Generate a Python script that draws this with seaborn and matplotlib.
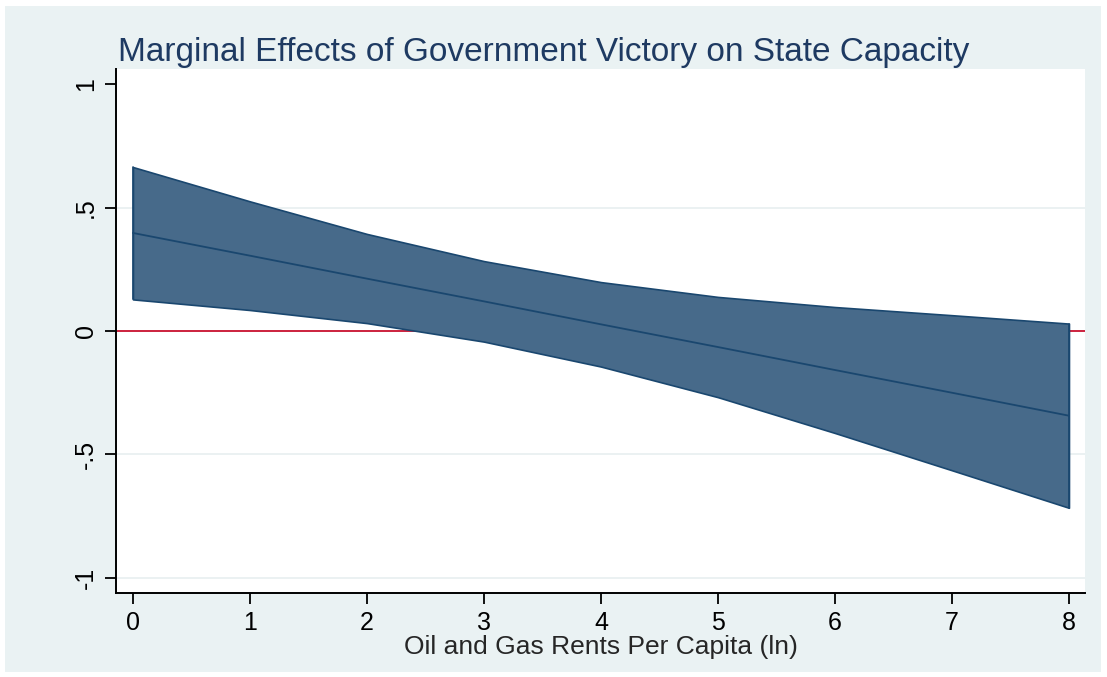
import numpy as np
import pandas as pd
from matplotlib import use
use('agg')
import matplotlib.pyplot as plt
from matplotlib.patches import Rectangle
import seaborn as sns

# values
rents = [0, 1, 2, 3, 4, 5, 6, 7, 8]
effect = [0.397, 0.305, 0.212, 0.120, 0.027, -0.065, -0.158, -0.250, -0.343]
upper = [0.664, 0.525, 0.393, 0.283, 0.198, 0.138, 0.097, 0.064, 0.030]
lower = [0.128, 0.085, 0.032, -0.043, -0.144, -0.268, -0.413, -0.564, -0.716]
yticks = [-1, -0.5, 0, 0.5, 1]
ytick_labels = ["-1", "-.5", "0", ".5", "1"]

df = pd.DataFrame({"rents": rents, "effect": effect, "upper": upper, "lower": lower})

sns.set_style("ticks")
plt.rcParams['font.family'] = ['Liberation Sans', 'DejaVu Sans']

bg = "#EAF2F3"
navy = "#1A476F"
fill = "#476A8A"

fig = plt.figure(figsize=(11.07, 6.77), dpi=100, facecolor="white")
W, H = 1107, 677
# stata-like outer graph region, drawn underneath the axes
fig.add_artist(Rectangle((5 / W, 1 - 672 / H), (1101 - 5) / W, (672 - 6) / H,
                         transform=fig.transFigure, facecolor=bg, edgecolor="none", zorder=-5))

ax = fig.add_axes([116 / W, 1 - 593 / H, (1085 - 116) / W, (593 - 69) / H])
ax.set_facecolor("white")
ax.set_zorder(1)

for yv in [-1, -0.5, 0.5]:
    ax.axhline(yv, color="#E8EFF0", lw=1.2, zorder=1)

ax.fill_between(df["rents"], df["lower"], df["upper"], facecolor=fill, edgecolor=navy,
                lw=1.2, zorder=2)
ax.plot([rents[0], rents[0]], [lower[0], upper[0]], color=navy, lw=1.2, zorder=3)
ax.plot([rents[-1], rents[-1]], [lower[-1], upper[-1]], color=navy, lw=1.2, zorder=3)
sns.lineplot(data=df, x="rents", y="effect", color=navy, lw=1.3, ax=ax, zorder=3)
ax.axhline(0, color="#C8102E", lw=1.3, zorder=1.5)

ax.set_xlim(-0.145, 8.137)
ax.set_ylim(-1.061, 1.061)
ax.set_xticks(rents)
ax.set_yticks(yticks)
ax.set_yticklabels(ytick_labels, rotation=90, va="center")
ax.tick_params(axis="both", direction="out", length=8, width=1.3, colors="black",
               labelsize=18, pad=5)

for s in ["top", "right"]:
    ax.spines[s].set_visible(False)
for s in ["left", "bottom"]:
    ax.spines[s].set_linewidth(1.4)
    ax.spines[s].set_color("black")

ax.set_xlabel("Oil and Gas Rents Per Capita (ln)", fontsize=19, labelpad=0)
ax.set_ylabel("")
ax.set_title("Marginal Effects of Government Victory on State Capacity", loc="left",
             fontsize=24, color="#1E3A62", pad=6, x=0.002)

plt.savefig("out.png", dpi=100, facecolor="white")
